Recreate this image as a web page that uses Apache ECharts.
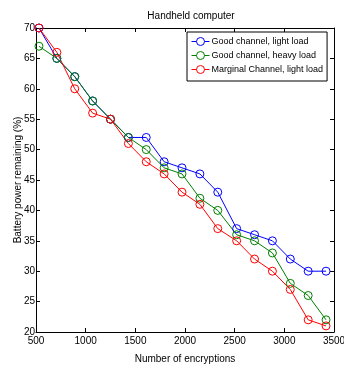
<!DOCTYPE html>
<html>
<head>
<meta charset="utf-8">
<script src="https://cdn.jsdelivr.net/npm/echarts@6/dist/echarts.min.js"></script>
<style>
  html, body { margin: 0; padding: 0; background: #fff; }
  #main { width: 344px; height: 366px; }
</style>
</head>
<body>
<div id="main"></div>
<script>
// number of encryptions at each measurement
var encryptions = [530, 710, 890, 1070, 1250, 1430, 1610, 1790, 1970, 2150, 2330, 2520, 2700, 2880, 3060, 3240, 3420];

var goodLight = [70, 65, 62, 58, 55, 52, 52, 48, 47, 46, 43, 37, 36, 35, 32, 30, 30];
var goodHeavy = [67, 65, 62, 58, 55, 52, 50, 47, 46, 42, 40, 36, 35, 33, 28, 26, 22];
var marginalLight = [70, 66, 60, 56, 55, 51, 48, 46, 43, 41, 37, 35, 32, 30, 27, 22, 21];

var seriesNames = ['Good channel, light load', 'Good channel, heavy load', 'Marginal Channel, light load'];
var seriesColors = ['#0000ff', '#008000', '#ff0000'];

var font = 'Liberation Sans, Arial, sans-serif';

function pairs(ys) {
    var out = [];
    for (var i = 0; i < encryptions.length; i++) {
        out.push([encryptions[i], ys[i]]);
    }
    return out;
}

function makeSeries(name, ys, color) {
    return {
        name: name,
        type: 'line',
        data: pairs(ys),
        symbol: 'circle',
        symbolSize: 8,
        showSymbol: true,
        animation: false,
        lineStyle: { color: color, width: 1 },
        itemStyle: { color: 'rgba(255,255,255,0)', borderColor: color, borderWidth: 1 },
        emphasis: { disabled: true }
    };
}

var axisLine = { show: true, lineStyle: { color: '#000', width: 1 } };
var axisTick = { show: true, inside: true, length: 4, lineStyle: { color: '#000' } };

var chart = echarts.init(document.getElementById('main'));
var option = {
    backgroundColor: '#fff',
    animation: false,
    textStyle: { fontFamily: font },
    title: {
        text: 'Handheld computer',
        left: 186,
        top: 6,
        textAlign: 'center',
        textStyle: { fontSize: 10, fontWeight: 'normal', color: '#000', fontFamily: font }
    },
    grid: { left: 36, right: 10, top: 28, bottom: 34, outerBoundsMode: 'none', containLabel: false },
    legend: {
        orient: 'vertical',
        left: 187,
        top: 32,
        padding: [5, 4, 7, 4],
        itemGap: 5,
        itemWidth: 18,
        itemHeight: 10,
        borderColor: '#000',
        borderWidth: 1,
        backgroundColor: '#fff',
        lineStyle: { width: 1 },
        textStyle: { fontSize: 9, color: '#000', fontFamily: font, padding: [0, 0, 0, -3] },
        data: seriesNames.map(function (n, i) {
            return { name: n, itemStyle: { color: '#fff', borderColor: seriesColors[i], borderWidth: 1 } };
        })
    },
    xAxis: [{
        type: 'value',
        min: 500,
        max: 3500,
        interval: 500,
        name: 'Number of encryptions',
        nameLocation: 'middle',
        nameGap: 22,
        nameMoveOverlap: false,
        nameTextStyle: { fontSize: 10, color: '#000', fontFamily: font },
        axisLine: axisLine,
        axisTick: axisTick,
        splitLine: { show: false },
        axisLabel: {
            color: '#000', fontSize: 10, margin: 4, fontFamily: font,
            formatter: function (v) { return String(v); }
        }
    }, {
        type: 'value',
        position: 'top',
        min: 500,
        max: 3500,
        interval: 500,
        axisLine: axisLine,
        axisTick: axisTick,
        splitLine: { show: false },
        axisLabel: { show: false }
    }],
    yAxis: [{
        type: 'value',
        min: 20,
        max: 70,
        interval: 5,
        name: 'Battery power remaining (%)',
        nameLocation: 'middle',
        nameGap: 13,
        nameMoveOverlap: false,
        nameTextStyle: { fontSize: 10, color: '#000', fontFamily: font },
        axisLine: axisLine,
        axisTick: axisTick,
        splitLine: { show: false },
        axisLabel: { color: '#000', fontSize: 10, margin: 1, fontFamily: font }
    }, {
        type: 'value',
        position: 'right',
        min: 20,
        max: 70,
        interval: 5,
        axisLine: axisLine,
        axisTick: axisTick,
        splitLine: { show: false },
        axisLabel: { show: false }
    }],
    series: [
        makeSeries(seriesNames[0], goodLight, seriesColors[0]),
        makeSeries(seriesNames[1], goodHeavy, seriesColors[1]),
        makeSeries(seriesNames[2], marginalLight, seriesColors[2])
    ]
};
chart.setOption(option);
</script>
</body>
</html>
